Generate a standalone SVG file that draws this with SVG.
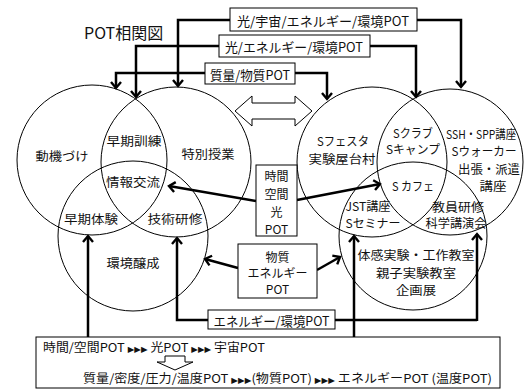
<svg xmlns="http://www.w3.org/2000/svg" width="524" height="390" viewBox="0 0 524 390">
<defs>
<marker id="ah" markerUnits="userSpaceOnUse" markerWidth="14" markerHeight="14" viewBox="-8 -7 10 14" refX="0" refY="0" orient="auto">
<path d="M-6,-5 L0,0 L-6,5" fill="none" stroke="#000" stroke-width="2.4" stroke-linejoin="miter"/>
</marker>
<style>
text{font-family:"Noto Sans CJK JP","Liberation Sans",sans-serif;fill:#111;}
.t{font-size:12px;text-anchor:middle;dominant-baseline:central;}
.s{font-size:12px;}
.c{fill:none;stroke:#000;stroke-width:1;}
.b{fill:#fff;stroke:#000;stroke-width:1;}
.w{fill:none;stroke:#000;stroke-width:2.5;}
.a{marker-end:url(#ah);}
.tri{font-family:"DejaVu Sans",sans-serif;font-size:8px;}
</style>
</defs>
<rect width="524" height="390" fill="#fff"/>
<text x="84" y="39" style="font-size:16px">POT相関図</text>

<g id="circles-left">
<circle class="c" cx="92" cy="160" r="75"/>
<circle class="c" cx="176" cy="162" r="75"/>
<circle class="c" cx="133" cy="236" r="75"/>
</g>
<g id="circles-right">
<circle class="c" cx="372" cy="162" r="75"/>
<circle class="c" cx="450" cy="162" r="73"/>
<circle class="c" cx="413" cy="236" r="74"/>
</g>

<g id="labels-left">
<text class="t" x="62" y="155" textLength="53" lengthAdjust="spacingAndGlyphs">動機づけ</text>
<text class="t" x="134" y="140" textLength="55" lengthAdjust="spacingAndGlyphs">早期訓練</text>
<text class="t" x="208" y="153" textLength="53" lengthAdjust="spacingAndGlyphs">特別授業</text>
<text class="t" x="133" y="181" textLength="54" lengthAdjust="spacingAndGlyphs">情報交流</text>
<text class="t" x="91" y="218" textLength="54" lengthAdjust="spacingAndGlyphs">早期体験</text>
<text class="t" x="175" y="218" textLength="55" lengthAdjust="spacingAndGlyphs">技術研修</text>
<text class="t" x="133" y="262" textLength="53" lengthAdjust="spacingAndGlyphs">環境醸成</text>
</g>
<g id="labels-right">
<text class="t" x="343" y="140" textLength="52" lengthAdjust="spacingAndGlyphs">Sフェスタ</text>
<text class="t" x="342" y="158" textLength="67" lengthAdjust="spacingAndGlyphs">実験屋台村</text>
<text class="t" x="413" y="132" textLength="40" lengthAdjust="spacingAndGlyphs">Sクラブ</text>
<text class="t" x="413" y="148" textLength="54" lengthAdjust="spacingAndGlyphs">Sキャンプ</text>
<text class="t" x="481" y="133" textLength="70" lengthAdjust="spacingAndGlyphs">SSH・SPP講座</text>
<text class="t" x="484" y="150" textLength="65" lengthAdjust="spacingAndGlyphs">Sウォーカー</text>
<text class="t" x="489" y="168" textLength="62" lengthAdjust="spacingAndGlyphs">出張・派遣</text>
<text class="t" x="493" y="185" textLength="27" lengthAdjust="spacingAndGlyphs">講座</text>
<text class="t" x="413" y="185" textLength="42" lengthAdjust="spacingAndGlyphs">S カフェ</text>
<text class="t" x="368" y="205" textLength="45" lengthAdjust="spacingAndGlyphs">JST講座</text>
<text class="t" x="373" y="222" textLength="55" lengthAdjust="spacingAndGlyphs">Sセミナー</text>
<text class="t" x="458" y="206" textLength="52" lengthAdjust="spacingAndGlyphs">教員研修</text>
<text class="t" x="456" y="222" textLength="61" lengthAdjust="spacingAndGlyphs">科学講演会</text>
<text class="t" x="416" y="254" textLength="117" lengthAdjust="spacingAndGlyphs">体感実験・工作教室</text>
<text class="t" x="416" y="272" textLength="80" lengthAdjust="spacingAndGlyphs">親子実験教室</text>
<text class="t" x="416" y="289" textLength="40" lengthAdjust="spacingAndGlyphs">企画展</text>
</g>

<g id="connectors">
<path class="w a" d="M230,20 H178 V86"/>
<path class="w a" d="M417,20 H461 V87"/>
<path class="w a" d="M219,46 H136 V97"/>
<path class="w a" d="M370,46 H416 V97"/>
<path class="w a" d="M205,73 H116 V88"/>
<path class="w a" d="M295,73 H327 V99"/>
<path class="w a" d="M256,201 L169,186"/>
<path class="w a" d="M297,200 L380,184"/>
<path class="w a" d="M238,268 L205,259"/>
<path class="w a" d="M317,270 L340,257"/>
<path class="w a" d="M208,320 H177 V238"/>
<path class="w" d="M335,320 H477"/>
<path class="w a" d="M477,321 V234"/>
<path class="w a" d="M354,337 V236"/>
<path class="w a" d="M88,337 V236"/>
</g>

<g id="box-pot1">
<rect class="b" x="230" y="8" width="187" height="23"/>
<text class="t" x="323" y="20" textLength="172" lengthAdjust="spacingAndGlyphs" style="font-size:13px">光/宇宙/エネルギー/環境POT</text>
</g>
<g id="box-pot2">
<rect class="b" x="219" y="35" width="151" height="22"/>
<text class="t" x="294" y="46" textLength="138" lengthAdjust="spacingAndGlyphs" style="font-size:13px">光/エネルギー/環境POT</text>
</g>
<g id="box-pot3">
<rect class="b" x="205" y="63" width="90" height="21"/>
<text class="t" x="250" y="74" textLength="80" lengthAdjust="spacingAndGlyphs" style="font-size:13px">質量/物質POT</text>
</g>
<g id="double-arrow">
<path class="b" d="M235,111 L252,96 V103 H295 V96 L312,111 L295,126 V119 H252 V126 Z"/>
</g>
<g id="box-time">
<rect class="b" x="256" y="165" width="41" height="71"/>
<text class="t" x="276.5" y="175">時間</text>
<text class="t" x="276.5" y="193">空間</text>
<text class="t" x="276.5" y="211">光</text>
<text class="t" x="276.5" y="228">POT</text>
</g>
<g id="box-matter">
<rect class="b" x="238" y="244" width="79" height="54"/>
<text class="t" x="277.5" y="256">物質</text>
<text class="t" x="277.5" y="272">エネルギー</text>
<text class="t" x="277.5" y="288">POT</text>
</g>
<g id="box-energy">
<rect class="b" x="208" y="310" width="127" height="19"/>
<text class="t" x="271.5" y="320" textLength="116" lengthAdjust="spacingAndGlyphs" style="font-size:13px">エネルギー/環境POT</text>
</g>
<g id="box-bottom">
<rect class="b" x="36" y="337" width="464" height="51"/>
<text class="s" x="43" y="352" textLength="222" lengthAdjust="spacingAndGlyphs">時間/空間POT <tspan class="tri">▶▶▶</tspan> 光POT <tspan class="tri">▶▶▶</tspan> 宇宙POT</text>
<path class="b" d="M165,356 H185 V362 H193 L175,370 L157,362 H165 Z"/>
<text class="s" x="83" y="383" textLength="409" lengthAdjust="spacingAndGlyphs">質量/密度/圧力/温度POT <tspan class="tri">▶▶▶</tspan>(物質POT) <tspan class="tri">▶▶▶</tspan> エネルギーPOT (温度POT)</text>
</g>
</svg>
